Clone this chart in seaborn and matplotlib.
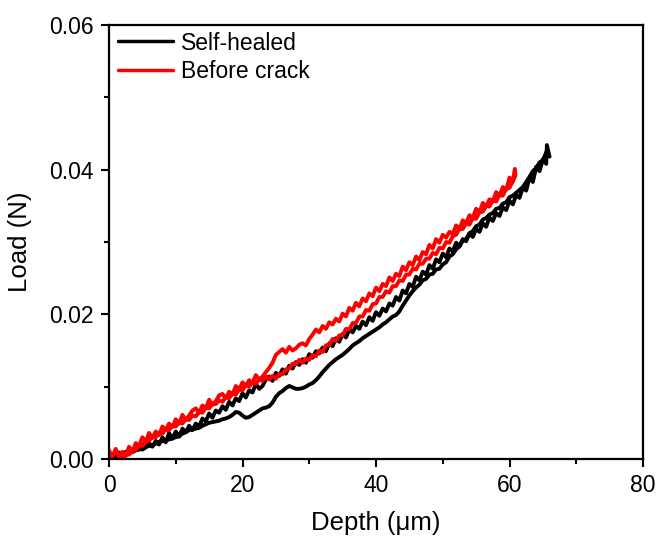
import numpy as np
import pandas as pd
import matplotlib
matplotlib.use("Agg")
import matplotlib.pyplot as plt
import seaborn as sns
from matplotlib.ticker import MultipleLocator

# ---------------- data ----------------
series_names = ["Self-healed", "Before crack"]
series_colors = ["black", "red"]

# Self-healed: loading branch (depth in um, load in N)
heal_load_x = [0, 0.5, 1, 1.5, 2, 2.5, 3, 3.5, 4, 4.5,
               5, 5.5, 6, 6.5, 7, 7.5, 8, 8.5, 9, 9.5,
               10, 10.5, 11, 11.5, 12, 12.5, 13, 13.5, 14, 14.5,
               15, 15.5, 16, 16.5, 17, 17.5, 18, 18.5, 19, 19.5,
               20, 20.5, 21, 21.5, 22, 22.5, 23, 23.5, 24, 24.5,
               25, 25.5, 26, 26.5, 27, 27.5, 28, 28.5, 29, 29.5,
               30, 30.5, 31, 31.5, 32, 32.5, 33, 33.5, 34, 34.5,
               35, 35.5, 36, 36.5, 37, 37.5, 38, 38.5, 39, 39.5,
               40, 40.5, 41, 41.5, 42, 42.5, 43, 43.5, 44, 44.5,
               45, 45.5, 46, 46.5, 47, 47.5, 48, 48.5, 49, 49.5,
               50, 50.5, 51, 51.5, 52, 52.5, 53, 53.5, 54, 54.5,
               55, 55.5, 56, 56.5, 57, 57.5, 58, 58.5, 59, 59.5,
               60, 60.5, 61, 61.5, 62, 62.5, 63, 63.5, 64, 64.5,
               65, 65.5, 65.6]
heal_load_y = [0.0000, 0.0006, 0.0003, 0.0009, 0.0004, 0.0010, 0.0007, 0.0014, 0.0012, 0.0018,
               0.0013, 0.0016, 0.0022, 0.0017, 0.0025, 0.0020, 0.0030, 0.0023, 0.0036, 0.0028,
               0.0038, 0.0031, 0.0042, 0.0037, 0.0046, 0.0040, 0.0049, 0.0045, 0.0056, 0.0052,
               0.0063, 0.0057, 0.0067, 0.0064, 0.0073, 0.0068, 0.0079, 0.0074, 0.0084, 0.0080,
               0.0091, 0.0085, 0.0095, 0.0092, 0.0104, 0.0097, 0.0101, 0.0110, 0.0114, 0.0108,
               0.0119, 0.0115, 0.0124, 0.0118, 0.0129, 0.0125, 0.0134, 0.0130, 0.0138, 0.0133,
               0.0145, 0.0140, 0.0149, 0.0146, 0.0154, 0.0149, 0.0160, 0.0156, 0.0167, 0.0162,
               0.0173, 0.0168, 0.0179, 0.0175, 0.0184, 0.0180, 0.0190, 0.0185, 0.0196, 0.0191,
               0.0203, 0.0198, 0.0208, 0.0204, 0.0215, 0.0212, 0.0224, 0.0219, 0.0233, 0.0229,
               0.0242, 0.0238, 0.0252, 0.0247, 0.0259, 0.0255, 0.0268, 0.0263, 0.0276, 0.0272,
               0.0284, 0.0279, 0.0291, 0.0287, 0.0299, 0.0294, 0.0304, 0.0301, 0.0312, 0.0307,
               0.0318, 0.0314, 0.0326, 0.0321, 0.0334, 0.0329, 0.0340, 0.0336, 0.0348, 0.0344,
               0.0357, 0.0352, 0.0365, 0.0361, 0.0375, 0.0371, 0.0389, 0.0383, 0.0404, 0.0398,
               0.0414, 0.0408, 0.0434]

# Self-healed: lower branch, from the tip back towards the origin
heal_unload_x = [66, 65.5, 65, 64.5, 64, 63.5, 63, 62.5, 62, 61.5,
                 61, 60.5, 60, 59.5, 59, 58.5, 58, 57.5, 57, 56.5,
                 56, 55.5, 55, 54.5, 54, 53.5, 53, 52.5, 52, 51.5,
                 51, 50.5, 50, 49.5, 49, 48.5, 48, 47.5, 47, 46.5,
                 46, 45.5, 45, 44.5, 44, 43.5, 43, 42.5, 42, 41.5,
                 41, 40.5, 40, 39.5, 39, 38.5, 38, 37.5, 37, 36.5,
                 36, 35.5, 35, 34.5, 34, 33.5, 33, 32.5, 32, 31.5,
                 31, 30.5, 30, 29.5, 29, 28.5, 28, 27.5, 27, 26.5,
                 26, 25.5, 25, 24.5, 24, 23.5, 23, 22.5, 22, 21.5,
                 21, 20.5, 20, 19.5, 19, 18.5, 18, 17.5, 17, 16.5,
                 16, 15.5, 15, 14.5, 14, 13.5, 13, 12.5, 12, 11.5,
                 11, 10.5, 10, 9.5, 9, 8.5, 8, 7.5, 7, 6.5,
                 6, 5.5, 5, 4.5, 4, 3.6]
heal_unload_y = [0.0418, 0.0424, 0.0413, 0.0410, 0.0402, 0.0398, 0.0390, 0.0383, 0.0376, 0.0372,
                 0.0368, 0.0364, 0.0362, 0.0355, 0.0353, 0.0347, 0.0346, 0.0340, 0.0338, 0.0333,
                 0.0331, 0.0324, 0.0322, 0.0315, 0.0312, 0.0304, 0.0302, 0.0294, 0.0290, 0.0283,
                 0.0280, 0.0272, 0.0269, 0.0263, 0.0262, 0.0256, 0.0255, 0.0249, 0.0247, 0.0241,
                 0.0237, 0.0232, 0.0226, 0.0219, 0.0212, 0.0204, 0.0199, 0.0197, 0.0193, 0.0189,
                 0.0186, 0.0182, 0.0179, 0.0176, 0.0173, 0.0170, 0.0167, 0.0163, 0.0160, 0.0157,
                 0.0152, 0.0148, 0.0144, 0.0141, 0.0138, 0.0134, 0.0130, 0.0125, 0.0120, 0.0114,
                 0.0109, 0.0105, 0.0103, 0.0100, 0.0098, 0.0097, 0.0097, 0.0099, 0.0101, 0.0098,
                 0.0094, 0.0091, 0.0086, 0.0078, 0.0073, 0.0071, 0.0070, 0.0067, 0.0064, 0.0061,
                 0.0058, 0.0057, 0.0060, 0.0064, 0.0065, 0.0061, 0.0058, 0.0056, 0.0055, 0.0053,
                 0.0052, 0.0051, 0.0050, 0.0048, 0.0046, 0.0043, 0.0042, 0.0041, 0.0040, 0.0037,
                 0.0035, 0.0032, 0.0030, 0.0029, 0.0027, 0.0026, 0.0025, 0.0023, 0.0021, 0.0019,
                 0.0018, 0.0017, 0.0015, 0.0013, 0.0012, 0.0010]

# Before crack: upper branch
crack_load_x = [0, 0.5, 1, 1.5, 2, 2.5, 3, 3.5, 4, 4.5,
                5, 5.5, 6, 6.5, 7, 7.5, 8, 8.5, 9, 9.5,
                10, 10.5, 11, 11.5, 12, 12.5, 13, 13.5, 14, 14.5,
                15, 15.5, 16, 16.5, 17, 17.5, 18, 18.5, 19, 19.5,
                20, 20.5, 21, 21.5, 22, 22.5, 23, 23.5, 24, 24.5,
                25, 25.5, 26, 26.5, 27, 27.5, 28, 28.5, 29, 29.5,
                30, 30.5, 31, 31.5, 32, 32.5, 33, 33.5, 34, 34.5,
                35, 35.5, 36, 36.5, 37, 37.5, 38, 38.5, 39, 39.5,
                40, 40.5, 41, 41.5, 42, 42.5, 43, 43.5, 44, 44.5,
                45, 45.5, 46, 46.5, 47, 47.5, 48, 48.5, 49, 49.5,
                50, 50.5, 51, 51.5, 52, 52.5, 53, 53.5, 54, 54.5,
                55, 55.5, 56, 56.5, 57, 57.5, 58, 58.5, 59, 59.5,
                60, 60.5, 60.8]
crack_load_y = [0.0012, 0.0003, 0.0014, 0.0002, 0.0010, 0.0004, 0.0017, 0.0009, 0.0022, 0.0018,
                0.0030, 0.0024, 0.0036, 0.0029, 0.0038, 0.0033, 0.0045, 0.0040, 0.0049, 0.0044,
                0.0055, 0.0049, 0.0061, 0.0054, 0.0060, 0.0067, 0.0070, 0.0064, 0.0074, 0.0070,
                0.0082, 0.0075, 0.0080, 0.0088, 0.0090, 0.0084, 0.0093, 0.0089, 0.0101, 0.0096,
                0.0106, 0.0101, 0.0109, 0.0105, 0.0116, 0.0110, 0.0114, 0.0120, 0.0126, 0.0133,
                0.0144, 0.0148, 0.0152, 0.0147, 0.0155, 0.0150, 0.0153, 0.0158, 0.0160, 0.0157,
                0.0166, 0.0172, 0.0179, 0.0175, 0.0184, 0.0180, 0.0189, 0.0186, 0.0194, 0.0190,
                0.0201, 0.0197, 0.0209, 0.0205, 0.0216, 0.0211, 0.0222, 0.0218, 0.0229, 0.0225,
                0.0237, 0.0232, 0.0242, 0.0239, 0.0251, 0.0246, 0.0256, 0.0253, 0.0266, 0.0261,
                0.0272, 0.0268, 0.0280, 0.0275, 0.0286, 0.0283, 0.0296, 0.0291, 0.0304, 0.0299,
                0.0310, 0.0306, 0.0314, 0.0311, 0.0323, 0.0318, 0.0330, 0.0326, 0.0337, 0.0333,
                0.0346, 0.0341, 0.0354, 0.0349, 0.0359, 0.0356, 0.0369, 0.0364, 0.0376, 0.0372,
                0.0389, 0.0384, 0.0401]

# Before crack: lower branch, from the tip back towards the origin
crack_unload_x = [60.9,
                  60.5, 60, 59.5, 59, 58.5, 58, 57.5, 57, 56.5, 56,
                  55.5, 55, 54.5, 54, 53.5, 53, 52.5, 52, 51.5, 51,
                  50.5, 50, 49.5, 49, 48.5, 48, 47.5, 47, 46.5, 46,
                  45.5, 45, 44.5, 44, 43.5, 43, 42.5, 42, 41.5, 41,
                  40.5, 40, 39.5, 39, 38.5, 38, 37.5, 37, 36.5, 36,
                  35.5, 35, 34.5, 34, 33.5, 33, 32.5, 32, 31.5, 31,
                  30.5, 30, 29.5, 29, 28.5, 28, 27.5, 27, 26.5, 26,
                  25.5, 25, 24.5, 24, 23.5, 23, 22.5, 22, 21.5, 21,
                  20.5, 20, 19.5, 19, 18.5, 18, 17.5, 17, 16.5, 16,
                  15.5, 15, 14.5, 14, 13.5, 13, 12.5, 12, 11.5, 11,
                  10.5, 10, 9.5, 9, 8.5, 8, 7.5, 7, 6.5, 6,
                  5.5, 5, 4.5, 4, 3.5, 3, 2.5, 2]
crack_unload_y = [0.0392,
                  0.0384, 0.0375, 0.0374, 0.0364, 0.0365, 0.0356, 0.0358, 0.0349, 0.0350, 0.0342,
                  0.0341, 0.0332, 0.0333, 0.0324, 0.0326, 0.0318, 0.0318, 0.0310, 0.0308, 0.0299,
                  0.0300, 0.0291, 0.0292, 0.0283, 0.0285, 0.0277, 0.0277, 0.0270, 0.0270, 0.0262,
                  0.0263, 0.0255, 0.0255, 0.0246, 0.0247, 0.0239, 0.0239, 0.0230, 0.0232, 0.0224,
                  0.0224, 0.0215, 0.0214, 0.0205, 0.0206, 0.0197, 0.0197, 0.0188, 0.0188, 0.0179,
                  0.0180, 0.0171, 0.0171, 0.0163, 0.0166, 0.0158, 0.0157, 0.0148, 0.0150, 0.0142,
                  0.0144, 0.0137, 0.0139, 0.0133, 0.0137, 0.0131, 0.0132, 0.0125, 0.0124, 0.0117,
                  0.0118, 0.0111, 0.0115, 0.0110, 0.0114, 0.0108, 0.0110, 0.0104, 0.0106, 0.0100,
                  0.0102, 0.0095, 0.0096, 0.0089, 0.0091, 0.0084, 0.0086, 0.0079, 0.0081, 0.0076,
                  0.0076, 0.0070, 0.0071, 0.0064, 0.0065, 0.0059, 0.0060, 0.0054, 0.0055, 0.0049,
                  0.0051, 0.0045, 0.0046, 0.0040, 0.0041, 0.0035, 0.0036, 0.0030, 0.0031, 0.0025,
                  0.0024, 0.0018, 0.0019, 0.0012, 0.0012, 0.0006, 0.0007, 0.0001]

x_ticks = [0, 20, 40, 60, 80]
y_ticks = [0.00, 0.02, 0.04, 0.06]

# ---------------- build long table ----------------
frames = []
for name, xs, ys in [
    (series_names[0], heal_load_x + heal_unload_x, heal_load_y + heal_unload_y),
    (series_names[1], crack_load_x + crack_unload_x, crack_load_y + crack_unload_y),
]:
    frames.append(pd.DataFrame({"Depth": xs, "Load": ys, "series": name}))
df = pd.concat(frames, ignore_index=True)

# ---------------- plot ----------------
sns.set_style("ticks")
plt.rcParams["font.family"] = ["Liberation Sans", "DejaVu Sans"]
plt.rcParams["text.color"] = "black"
plt.rcParams["axes.labelcolor"] = "black"
plt.rcParams["xtick.color"] = "black"
plt.rcParams["ytick.color"] = "black"

fig = plt.figure(figsize=(6.61, 5.42), dpi=100)
ax = fig.add_axes([109 / 661, 1 - 459 / 542, 534 / 661, 434 / 542])

sns.lineplot(data=df, x="Depth", y="Load", hue="series", hue_order=series_names,
             palette=dict(zip(series_names, series_colors)), sort=False,
             estimator=None, units="series", linewidth=2.8, ax=ax)

ax.set_xlim(x_ticks[0], x_ticks[-1])
ax.set_ylim(y_ticks[0], y_ticks[-1])
ax.set_xticks(x_ticks)
ax.set_yticks(y_ticks)
ax.set_yticklabels([f"{v:.2f}" for v in y_ticks])
ax.xaxis.set_minor_locator(MultipleLocator(10))
ax.yaxis.set_minor_locator(MultipleLocator(0.01))

for s in ax.spines.values():
    s.set_visible(True)
    s.set_linewidth(1.6)
    s.set_color("black")

ax.tick_params(axis="both", which="major", direction="out", length=6, width=1.5,
               labelsize=16.5, pad=5, colors="black", top=False, right=False)
ax.tick_params(axis="both", which="minor", direction="out", length=3.5, width=1.5,
               colors="black", top=False, right=False)

ax.set_xlabel("Depth (\u03bcm)", fontsize=18.5, labelpad=10, color="black")
ax.set_ylabel("Load (N)", fontsize=18.5, labelpad=12, color="black")

handles, labels = ax.get_legend_handles_labels()
leg = ax.legend(handles, labels, loc="upper left", bbox_to_anchor=(0.017, 0.985),
                frameon=False, fontsize=16.5, handlelength=2.4, handletextpad=0.35,
                labelspacing=0.25, borderaxespad=0, borderpad=0)
for line in leg.get_lines():
    line.set_linewidth(2.5)
for t in leg.get_texts():
    t.set_color("black")

fig.savefig("out.png", dpi=100)
